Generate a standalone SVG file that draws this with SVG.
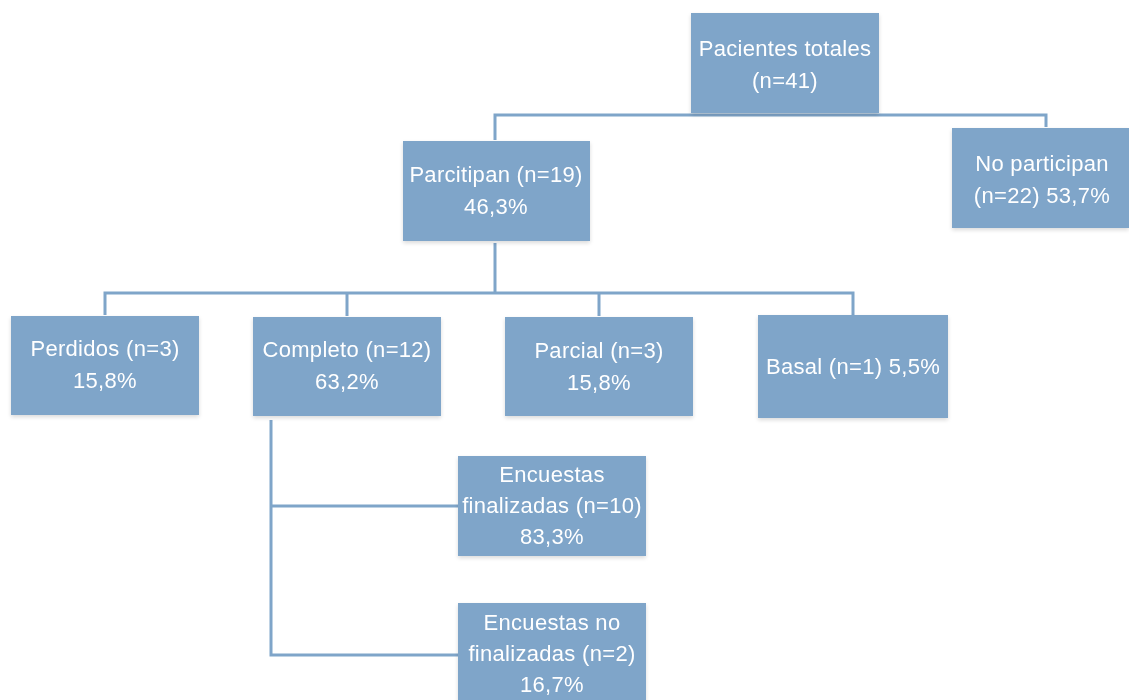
<svg xmlns="http://www.w3.org/2000/svg" width="1129" height="700" viewBox="0 0 1129 700">
<style>
.box{fill:#7fa5c9;}
.t{font-family:"Liberation Sans",Arial,sans-serif;font-size:22px;letter-spacing:0.3px;fill:#ffffff;text-anchor:middle;}
.c{fill:none;stroke:#7fa5c9;stroke-width:3;}
</style>
<defs>
<filter id="sh" x="-10%" y="-10%" width="120%" height="130%">
<feGaussianBlur in="SourceAlpha" stdDeviation="2"/>
<feOffset dy="2"/>
<feComponentTransfer><feFuncA type="linear" slope="0.15"/></feComponentTransfer>
<feMerge><feMergeNode/><feMergeNode in="SourceGraphic"/></feMerge>
</filter>
</defs>
<rect width="1129" height="700" fill="#ffffff"/>
<g id="connectors">
<path class="c" d="M495,140 V115 H1046 V127"/>
<path class="c" d="M495,243 V293"/>
<path class="c" d="M105,315 V293 H853 V315"/>
<path class="c" d="M347,293 V316"/>
<path class="c" d="M599,293 V316"/>
<path class="c" d="M271,420 V655 H458"/>
<path class="c" d="M271,506 H458"/>
</g>
<g id="pacientes" filter="url(#sh)">
<rect class="box" x="691" y="13" width="188" height="100"/>
<text class="t" x="785" y="56">Pacientes totales</text>
<text class="t" x="785" y="88">(n=41)</text>
</g>
<g id="noparticipan" filter="url(#sh)">
<rect class="box" x="952" y="128" width="177" height="100"/>
<text class="t" x="1042" y="171">No participan</text>
<text class="t" x="1042" y="203">(n=22) 53,7%</text>
</g>
<g id="participan" filter="url(#sh)">
<rect class="box" x="403" y="141" width="187" height="100"/>
<text class="t" x="496" y="182">Parcitipan (n=19)</text>
<text class="t" x="496" y="214">46,3%</text>
</g>
<g id="perdidos" filter="url(#sh)">
<rect class="box" x="11" y="316" width="188" height="99"/>
<text class="t" x="105" y="356">Perdidos (n=3)</text>
<text class="t" x="105" y="388">15,8%</text>
</g>
<g id="completo" filter="url(#sh)">
<rect class="box" x="253" y="317" width="188" height="99"/>
<text class="t" x="347" y="357">Completo (n=12)</text>
<text class="t" x="347" y="389">63,2%</text>
</g>
<g id="parcial" filter="url(#sh)">
<rect class="box" x="505" y="317" width="188" height="99"/>
<text class="t" x="599" y="358">Parcial (n=3)</text>
<text class="t" x="599" y="390">15,8%</text>
</g>
<g id="basal" filter="url(#sh)">
<rect class="box" x="758" y="315" width="190" height="103"/>
<text class="t" x="853" y="374">Basal (n=1) 5,5%</text>
</g>
<g id="finalizadas" filter="url(#sh)">
<rect class="box" x="458" y="456" width="188" height="100"/>
<text class="t" x="552" y="482">Encuestas</text>
<text class="t" x="552" y="513">finalizadas (n=10)</text>
<text class="t" x="552" y="544">83,3%</text>
</g>
<g id="nofinalizadas" filter="url(#sh)">
<rect class="box" x="458" y="603" width="188" height="100"/>
<text class="t" x="552" y="630">Encuestas no</text>
<text class="t" x="552" y="661">finalizadas (n=2)</text>
<text class="t" x="552" y="692">16,7%</text>
</g>
</svg>
